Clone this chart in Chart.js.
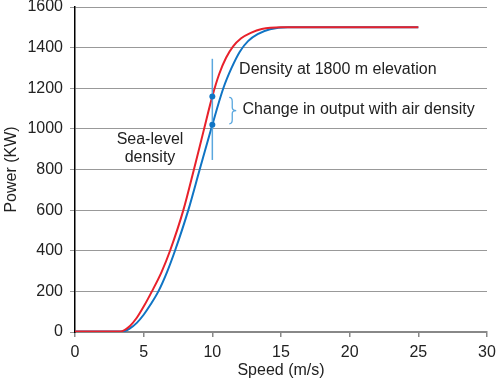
<!DOCTYPE html>
<html>
<head>
<meta charset="utf-8">
<script src="https://cdn.jsdelivr.net/npm/chart.js@4.4.0/dist/chart.umd.min.js"></script>
<style>
  html, body { margin: 0; padding: 0; background: #fff; }
  #wrap { width: 496px; height: 385px; }
</style>
</head>
<body>
<div id="wrap"><canvas id="chart"></canvas></div>
<script>
// power curve (speed in m/s, power in kW)
const redSpeed = [0, 3.3, 4, 4.5, 5, 5.6, 6.3, 6.92, 7.89, 8.66, 9.4, 10, 10.5, 11, 11.5, 12.1, 12.8, 13.6, 15, 25]
const redPower = [3, 3, 30, 70, 125, 200, 295, 400, 600, 800, 1000, 1160, 1270, 1350, 1405, 1446, 1473, 1492, 1500, 1500]

const blueSpeed = [0, 3.5, 4, 4.5, 5, 5.5, 6.07, 6.7, 7.28, 8.25, 9.08, 10, 10.8, 11.4, 12, 12.6, 13.3, 14.2, 15.5, 25]
const bluePower = [3, 3, 18, 45, 85, 135, 200, 295, 400, 600, 800, 1020, 1200, 1300, 1380, 1432, 1466, 1490, 1500, 1500]

const markSpeed = 10
const markPower = [1160, 1020]
const markSpan = [847, 1345]

const xTicks = [0, 5, 10, 15, 20, 25, 30]
const yTicks = [0, 200, 400, 600, 800, 1000, 1200, 1400, 1600]

const RED = '#e8212b'
const BLUE = '#0f74c4'
const LIGHT_BLUE = '#5aa7de'
const FONT = 'Liberation Sans, Arial, Helvetica, sans-serif'

const toPoints = (xs, ys) => xs.map((x, i) => ({ x: x, y: ys[i] }))

const notes = {
    id: 'notes',
    afterDatasetsDraw(chart) {
        const ctx = chart.ctx
        const x = chart.scales.x
        const y = chart.scales.y
        ctx.save()

        // vertical marker at 10 m/s
        ctx.strokeStyle = LIGHT_BLUE
        ctx.lineWidth = 1.5
        ctx.beginPath()
        ctx.moveTo(x.getPixelForValue(markSpeed), y.getPixelForValue(markSpan[1]))
        ctx.lineTo(x.getPixelForValue(markSpeed), y.getPixelForValue(markSpan[0]))
        ctx.stroke()

        ctx.fillStyle = BLUE
        markPower.forEach(p => {
            ctx.beginPath()
            ctx.arc(x.getPixelForValue(markSpeed), y.getPixelForValue(p), 3, 0, Math.PI * 2)
            ctx.fill()
        })

        // brace
        const bx = x.getPixelForValue(11.45)
        const top = y.getPixelForValue(markPower[0]) + 1
        const bot = y.getPixelForValue(markPower[1]) - 1
        const mid = (top + bot) / 2
        ctx.strokeStyle = LIGHT_BLUE
        ctx.lineWidth = 1.3
        ctx.beginPath()
        ctx.moveTo(bx - 3, top)
        ctx.quadraticCurveTo(bx, top, bx, top + 4)
        ctx.lineTo(bx, mid - 3)
        ctx.quadraticCurveTo(bx, mid, bx + 4, mid)
        ctx.quadraticCurveTo(bx, mid, bx, mid + 3)
        ctx.lineTo(bx, bot - 4)
        ctx.quadraticCurveTo(bx, bot, bx - 3, bot)
        ctx.stroke()

        ctx.fillStyle = '#222'
        ctx.font = '16px ' + FONT
        ctx.textBaseline = 'middle'
        ctx.textAlign = 'left'
        ctx.fillText('Density at 1800 m elevation', x.getPixelForValue(11.95), y.getPixelForValue(1290))
        ctx.fillText('Change in output with air density', x.getPixelForValue(12.2), y.getPixelForValue(1093))
        ctx.textAlign = 'center'
        ctx.fillText('Sea-level', x.getPixelForValue(5.46), y.getPixelForValue(945))
        ctx.fillText('density', x.getPixelForValue(5.46), y.getPixelForValue(857))
        ctx.restore()
    }
}

new Chart(document.getElementById('chart'), {
    type: 'line',
    data: {
        datasets: [
            {
                label: 'Density at 1800 m elevation',
                data: toPoints(redSpeed, redPower),
                borderColor: RED,
                borderWidth: 2,
                pointRadius: 0,
                cubicInterpolationMode: 'monotone',
                order: 0
            },
            {
                label: 'Sea-level density',
                data: toPoints(blueSpeed, bluePower),
                borderColor: BLUE,
                borderWidth: 2,
                pointRadius: 0,
                cubicInterpolationMode: 'monotone',
                order: 1
            }
        ]
    },
    options: {
        responsive: true,
        maintainAspectRatio: false,
        animation: false,
        layout: { padding: { top: 7, right: 9, left: 0, bottom: 0 } },
        plugins: {
            legend: { display: false },
            tooltip: { enabled: false }
        },
        scales: {
            x: {
                type: 'linear',
                min: 0,
                max: 30,
                afterBuildTicks: axis => { axis.ticks = xTicks.map(v => ({ value: v })) },
                afterFit: axis => {
                    axis.height = 53
                    axis.paddingLeft = 0
                    axis.paddingRight = 0
                },
                ticks: { color: '#222', font: { family: FONT, size: 16 }, padding: 6, maxRotation: 0, callback: v => String(v) },
                grid: { drawOnChartArea: false, drawTicks: true, tickLength: 5, color: '#888', lineWidth: 1.5 },
                border: { color: '#888', width: 2 },
                title: { display: true, text: 'Speed (m/s)', color: '#222', font: { family: FONT, size: 16 }, padding: { top: 0, bottom: 5 } }
            },
            y: {
                min: 0,
                max: 1600,
                afterBuildTicks: axis => { axis.ticks = yTicks.map(v => ({ value: v })) },
                afterFit: axis => {
                    axis.width = 75
                    axis.paddingTop = 0
                    axis.paddingBottom = 0
                },
                ticks: { color: '#222', font: { family: FONT, size: 16 }, padding: 7, callback: v => String(v) },
                grid: { color: '#999', lineWidth: 1, tickLength: 5 },
                border: { color: '#000', width: 1.5 },
                title: { display: true, text: 'Power (KW)', color: '#222', font: { family: FONT, size: 16 }, padding: { top: 2, bottom: 0 } }
            }
        }
    },
    plugins: [notes]
})
</script>
</body>
</html>
